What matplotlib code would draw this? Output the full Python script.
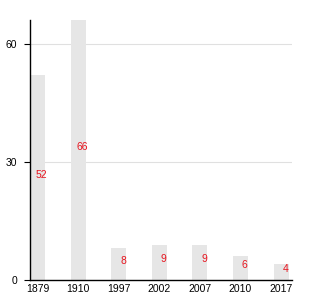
import matplotlib
matplotlib.use('Agg')
import matplotlib.pyplot as plt

plt.rcParams['font.family'] = ['Liberation Sans', 'DejaVu Sans']

years = ['1879', '1910', '1997', '2002', '2007', '2010', '2017']
values = [52, 66, 8, 9, 9, 6, 4]
y_ticks = [0, 30, 60]

fig = plt.figure(figsize=(3.3, 3.0), dpi=100)
ax = fig.add_axes([30 / 330, 20 / 300, 262 / 330, 260 / 300])

x = range(len(years))
ax.bar(x, values, width=0.37, color='#e6e6e6', edgecolor='none', zorder=2)

for xi, v in zip(x, values):
    ax.annotate(str(v), (xi, v / 2), xytext=(3, 2), textcoords='offset points',
                ha='center', va='center', fontsize=7.5, color='#e8141e', zorder=3)

ax.set_xlim(-0.19, len(years) - 0.73)
ax.set_ylim(0, 66)
ax.set_xticks(list(x))
ax.set_xticklabels(years)
ax.set_yticks(y_ticks)
ax.tick_params(axis='x', length=0, labelsize=7.5, pad=3)
ax.tick_params(axis='y', length=4, width=0.8, labelsize=7.5, pad=5)
ax.yaxis.grid(True, color='#e0e0e0', linewidth=0.8, zorder=0)
ax.set_axisbelow(True)

for s in ['top', 'right']:
    ax.spines[s].set_visible(False)
for s in ['left', 'bottom']:
    ax.spines[s].set_linewidth(1)
    ax.spines[s].set_color('black')

fig.savefig('out.png', dpi=100)
